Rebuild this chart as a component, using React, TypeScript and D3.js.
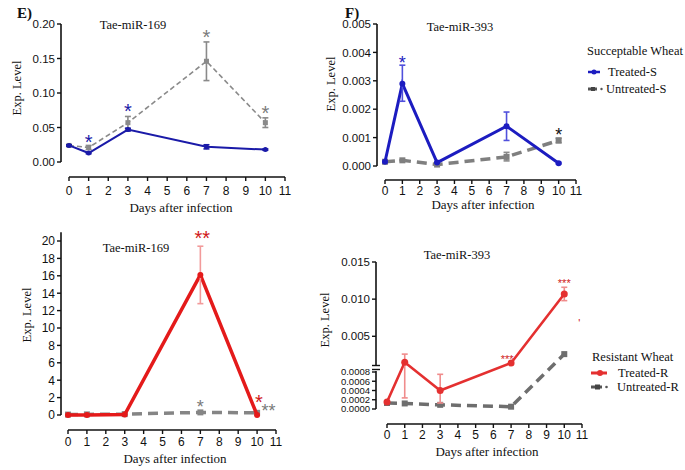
import React from "react";
import * as d3 from "d3";

const days = [0, 1, 3, 7, 10];
const xTicks = d3.range(0, 12);

// E) top: Tae-miR-169, susceptible
const e1Treated = [0.024, 0.013, 0.047, 0.022, 0.018];
const e1TreatedLo = [0.023, 0.012, 0.045, 0.019, 0.017];
const e1TreatedHi = [0.025, 0.014, 0.049, 0.025, 0.019];
const e1Untreated = [0.024, 0.021, 0.057, 0.146, 0.057];
const e1UntreatedLo = [0.023, 0.018, 0.048, 0.118, 0.05];
const e1UntreatedHi = [0.025, 0.024, 0.066, 0.174, 0.064];
const e1Ticks = [0, 0.05, 0.1, 0.15, 0.2];

// F) top: Tae-miR-393, susceptible
const f1Treated = [0.00015, 0.0029, 0.00012, 0.0014, 0.0001];
const f1TreatedLo = [0.00013, 0.00228, 0.0001, 0.0009, 0.00007];
const f1TreatedHi = [0.00017, 0.00355, 0.00014, 0.0019, 0.00013];
const f1Untreated = [0.00015, 0.0002, 0.00005, 0.00032, 0.0009];
const f1UntreatedLo = [0.00013, 0.00018, 0.00003, 0.00018, 0.00082];
const f1UntreatedHi = [0.00017, 0.00022, 0.00007, 0.00048, 0.00098];
const f1Ticks = [0, 0.001, 0.002, 0.003, 0.004, 0.005];

// E) bottom: Tae-miR-169, resistant
const e2Treated = [0, 0, 0.05, 16.1, 0];
const e2TreatedLo = [0, 0, 0.05, 12.8, 0];
const e2TreatedHi = [0, 0, 0.05, 19.4, 0];
const e2Untreated = [0.05, 0.07, 0.1, 0.3, 0.25];
const e2Ticks = d3.range(0, 21, 2);

// F) bottom: Tae-miR-393, resistant (broken axis)
const f2Treated = [0.00015, 0.0015, 0.0004, 0.0014, 0.0107];
const f2TreatedLo = [0.00015, 0.00024, 0.00013, 0.0014, 0.0098];
const f2TreatedHi = [0.00015, 0.0026, 0.00075, 0.0014, 0.0116];
const f2Untreated = [0.00013, 0.00012, 0.00009, 0.00005, 0.0026];
const f2UpperTicks = [0.005, 0.01, 0.015];
const f2LowerTicks = [0, 0.0002, 0.0004, 0.0006, 0.0008];

const SERIF = "'Liberation Serif', 'Times New Roman', serif";
const SANS = "'Liberation Sans', Arial, sans-serif";

interface Series {
  values: number[];
  lo?: number[];
  hi?: number[];
  color: string;
  errColor: string;
  width: number;
  dash?: string;
  marker: "circle" | "square";
  size: number;
}

interface Star {
  day: number;
  value: number;
  text: string;
  color: string;
  size: number;
}

type YScale = (v: number) => number;

function Star({ s, x, y }: { s: Star; x: d3.ScaleLinear<number, number>; y: YScale }) {
  return (
    <text
      x={x(s.day)}
      y={y(s.value) + s.size * 0.57}
      textAnchor="middle"
      fontFamily={SANS}
      fontSize={s.size}
      fill={s.color}
    >
      {s.text}
    </text>
  );
}

function SeriesG({ s, x, y }: { s: Series; x: d3.ScaleLinear<number, number>; y: YScale }) {
  const line = d3
    .line<number>()
    .x((_, i) => x(days[i]))
    .y((d) => y(d));
  return (
    <g>
      <path d={line(s.values) || ""} fill="none" stroke={s.color} strokeWidth={s.width} strokeDasharray={s.dash} />
      {s.lo &&
        s.hi &&
        s.values.map((v, i) => {
          const lo = s.lo![i];
          const hi = s.hi![i];
          if (hi - lo <= 0) return null;
          const cx = x(days[i]);
          return (
            <g key={"e" + i} stroke={s.errColor} strokeWidth={1.6}>
              <line x1={cx} x2={cx} y1={y(lo)} y2={y(hi)} />
              <line x1={cx - 3} x2={cx + 3} y1={y(lo)} y2={y(lo)} />
              <line x1={cx - 3} x2={cx + 3} y1={y(hi)} y2={y(hi)} />
            </g>
          );
        })}
      {s.values.map((v, i) =>
        s.marker === "circle" ? (
          <circle key={i} cx={x(days[i])} cy={y(v)} r={s.size / 2} fill={s.color} />
        ) : (
          <rect key={i} x={x(days[i]) - s.size / 2} y={y(v) - s.size / 2} width={s.size} height={s.size} fill={s.color} />
        )
      )}
    </g>
  );
}

function XAxis({ x, y0, labelY, title, titleX, titleY }: { x: d3.ScaleLinear<number, number>; y0: number; labelY: number; title: string; titleX: number; titleY: number }) {
  return (
    <g>
      <line x1={x(0)} x2={x(11)} y1={y0} y2={y0} stroke="#111" strokeWidth={1.6} />
      {xTicks.map((t) => (
        <g key={t}>
          <line x1={x(t)} x2={x(t)} y1={y0} y2={y0 + 4} stroke="#111" strokeWidth={1.4} />
          <text x={x(t)} y={labelY} textAnchor="middle" fontFamily={SANS} fontSize={12} fill="#111">
            {t}
          </text>
        </g>
      ))}
      <text x={titleX} y={titleY} textAnchor="middle" fontFamily={SERIF} fontSize={13} fill="#111">
        {title}
      </text>
    </g>
  );
}

function YAxis({ x0, y, ticks, fmt, top, bottom, size = 11.5 }: { x0: number; y: YScale; ticks: number[]; fmt: (v: number) => string; top: number; bottom: number; size?: number }) {
  return (
    <g>
      <line x1={x0} x2={x0} y1={top} y2={bottom} stroke="#111" strokeWidth={1.6} />
      {ticks.map((t) => (
        <g key={t}>
          <line x1={x0 - 4} x2={x0} y1={y(t)} y2={y(t)} stroke="#111" strokeWidth={1.4} />
          <text x={x0 - 6} y={y(t) + size * 0.36} textAnchor="end" fontFamily={SANS} fontSize={size} fill="#111">
            {fmt(t)}
          </text>
        </g>
      ))}
    </g>
  );
}

function YLabel({ x, y }: { x: number; y: number }) {
  return (
    <text transform={`translate(${x},${y}) rotate(-90)`} textAnchor="middle" fontFamily={SERIF} fontSize={12.5} fill="#111">
      Exp. Level
    </text>
  );
}

const App: React.FC = () => {
  // ---------- E top ----------
  const xE1 = d3.scaleLinear().domain([0, 11]).range([69, 285]);
  const yE1 = d3.scaleLinear().domain([0, 0.2]).range([162, 24]);
  const e1Blue: Series = { values: e1Treated, lo: e1TreatedLo, hi: e1TreatedHi, color: "#1a1aa8", errColor: "#1a1aa8", width: 2, marker: "circle", size: 5 };
  const e1Gray: Series = { values: e1Untreated, lo: e1UntreatedLo, hi: e1UntreatedHi, color: "#8a8a8a", errColor: "#8a8a8a", width: 1.6, dash: "5,3", marker: "square", size: 5 };
  const e1Stars: Star[] = [
    { day: 1, value: 0.036, text: "*", color: "#1a1aa8", size: 20 },
    { day: 3, value: 0.081, text: "*", color: "#1a1aa8", size: 20 },
    { day: 7, value: 0.187, text: "*", color: "#7a7a7a", size: 20 },
    { day: 10, value: 0.077, text: "*", color: "#7a7a7a", size: 20 },
  ];

  // ---------- F top ----------
  const xF1 = d3.scaleLinear().domain([0, 11]).range([385, 576]);
  const yF1 = d3.scaleLinear().domain([0, 0.005]).range([166, 24]);
  const f1Blue: Series = { values: f1Treated, lo: f1TreatedLo, hi: f1TreatedHi, color: "#1c1cc0", errColor: "#5050dc", width: 3, marker: "circle", size: 6 };
  const f1Gray: Series = { values: f1Untreated, lo: f1UntreatedLo, hi: f1UntreatedHi, color: "#7f7f7f", errColor: "#8a8a8a", width: 3.5, dash: "10,6", marker: "square", size: 6 };
  const f1Stars: Star[] = [
    { day: 1, value: 0.00377, text: "*", color: "#1c1cc0", size: 18 },
    { day: 10, value: 0.00123, text: "*", color: "#111", size: 18 },
  ];

  // ---------- E bottom ----------
  const xE2 = d3.scaleLinear().domain([0, 11]).range([68, 276]);
  const yE2 = d3.scaleLinear().domain([0, 20]).range([415, 241]);
  const e2Red: Series = { values: e2Treated, lo: e2TreatedLo, hi: e2TreatedHi, color: "#e41a1a", errColor: "#f29a9a", width: 3.5, marker: "circle", size: 6 };
  const e2Gray: Series = { values: e2Untreated, color: "#858585", errColor: "#858585", width: 3.5, dash: "10,6", marker: "square", size: 6 };
  const e2Stars: Star[] = [
    { day: 7.1, value: 20.9, text: "**", color: "#d01818", size: 20 },
    { day: 7, value: 1.4, text: "*", color: "#7a7a7a", size: 18 },
    { day: 10.1, value: 2.0, text: "*", color: "#d01818", size: 20 },
    { day: 10.6, value: 0.9, text: "**", color: "#7a7a7a", size: 18 },
  ];

  // ---------- F bottom (broken y axis) ----------
  const xF2 = d3.scaleLinear().domain([0, 11]).range([387, 582]);
  const yF2 = d3.scaleLinear().domain([0, 0.0008, 0.001, 0.015]).range([409, 372, 366, 262]);
  const f2Red: Series = { values: f2Treated, lo: f2TreatedLo, hi: f2TreatedHi, color: "#e43030", errColor: "#f08c8c", width: 2.6, marker: "circle", size: 7 };
  const f2Gray: Series = { values: f2Untreated, color: "#6e6e6e", errColor: "#6e6e6e", width: 3.5, dash: "10,6", marker: "square", size: 6 };
  const f2Stars: Star[] = [
    { day: 6.78, value: 0.0023, text: "***", color: "#d01818", size: 11 },
    { day: 10, value: 0.01244, text: "***", color: "#d01818", size: 11 },
    { day: 10.85, value: 0.00706, text: "'", color: "#d01818", size: 11 },
  ];

  return (
    <svg width={685} height={470} style={{ position: "absolute", left: 0, top: 0, background: "#fff" }}>
      <defs>
        <clipPath id="rightClip">
          <rect x={339} y={0} width={346} height={470} />
        </clipPath>
      </defs>
      <rect width={685} height={470} fill="#fff" />

      {/* E) top */}
      <text x={17} y={18} fontFamily={SERIF} fontWeight="bold" fontSize={15} fill="#111">E)</text>
      <YAxis x0={61} y={yE1} ticks={e1Ticks} fmt={d3.format(".2f")} top={yE1(0.2)} bottom={yE1(0)} />
      <XAxis x={xE1} y0={177} labelY={195} title="Days after infection" titleX={181} titleY={212} />
      <YLabel x={21} y={88} />
      <text x={133} y={29} textAnchor="middle" fontFamily={SERIF} fontSize={12.5} fill="#111">Tae-miR-169</text>
      <SeriesG s={e1Gray} x={xE1} y={yE1} />
      <SeriesG s={e1Blue} x={xE1} y={yE1} />
      {e1Stars.map((s, i) => <Star key={i} s={s} x={xE1} y={yE1} />)}

      {/* F) top */}
      <text x={345} y={18} fontFamily={SERIF} fontWeight="bold" fontSize={15} fill="#111">F)</text>
      <YAxis x0={377} y={yF1} ticks={f1Ticks} fmt={d3.format(".3f")} top={yF1(0.005)} bottom={yF1(0)} />
      <XAxis x={xF1} y0={180} labelY={195} title="Days after infection" titleX={483} titleY={209} />
      <YLabel x={335} y={84} />
      <text x={460} y={31} textAnchor="middle" fontFamily={SERIF} fontSize={12.5} fill="#111">Tae-miR-393</text>
      <SeriesG s={f1Gray} x={xF1} y={yF1} />
      <SeriesG s={f1Blue} x={xF1} y={yF1} />
      {f1Stars.map((s, i) => <Star key={i} s={s} x={xF1} y={yF1} />)}
      {/* legend S */}
      <text x={587} y={55} fontFamily={SERIF} fontSize={12.5} fill="#111">Succeptable Wheat</text>
      <line x1={588} x2={600} y1={72} y2={72} stroke="#1c1cc0" strokeWidth={2.5} />
      <circle cx={594} cy={72} r={2.5} fill="#1c1cc0" />
      <text x={608} y={76} fontFamily={SERIF} fontSize={12.5} fill="#111">Treated-S</text>
      <line x1={588} x2={597} y1={89} y2={89} stroke="#555" strokeWidth={3} />
      <rect x={591} y={87} width={4} height={4} fill="#444" />
      <circle cx={601.5} cy={89} r={1.2} fill="#555" />
      <text x={606} y={93} fontFamily={SERIF} fontSize={12.5} fill="#111">Untreated-S</text>

      {/* E) bottom */}
      <YAxis x0={61} y={yE2} ticks={e2Ticks} fmt={d3.format("d")} top={yE2(21)} bottom={yE2(0)} size={12} />
      <XAxis x={xE2} y0={430} labelY={446} title="Days after infection" titleX={175} titleY={463} />
      <YLabel x={31} y={315} />
      <text x={136} y={252} textAnchor="middle" fontFamily={SERIF} fontSize={12.5} fill="#111">Tae-miR-169</text>
      <SeriesG s={e2Gray} x={xE2} y={yE2} />
      <SeriesG s={e2Red} x={xE2} y={yE2} />
      {e2Stars.map((s, i) => <Star key={i} s={s} x={xE2} y={yE2} />)}

      {/* F) bottom */}
      <g clipPath="url(#rightClip)">
        <YAxis x0={376} y={yF2} ticks={f2UpperTicks} fmt={d3.format(".3f")} top={yF2(0.015)} bottom={365} />
        <YAxis x0={376} y={yF2} ticks={f2LowerTicks} fmt={d3.format(".4f")} top={371} bottom={yF2(0)} size={9.5} />
        <line x1={372} x2={380} y1={365.5} y2={365.5} stroke="#111" strokeWidth={1.4} />
        <line x1={372} x2={380} y1={369.5} y2={369.5} stroke="#111" strokeWidth={1.4} />
      </g>
      <XAxis x={xF2} y0={424} labelY={439} title="Days after infection" titleX={487} titleY={456} />
      <YLabel x={329} y={320} />
      <text x={457} y={259} textAnchor="middle" fontFamily={SERIF} fontSize={12.5} fill="#111">Tae-miR-393</text>
      <SeriesG s={f2Gray} x={xF2} y={yF2} />
      <SeriesG s={f2Red} x={xF2} y={yF2} />
      {f2Stars.map((s, i) => <Star key={i} s={s} x={xF2} y={yF2} />)}
      {/* legend R */}
      <text x={592} y={361} fontFamily={SERIF} fontSize={12.5} fill="#111">Resistant Wheat</text>
      <line x1={591} x2={607} y1={373} y2={373} stroke="#e43030" strokeWidth={3} />
      <circle cx={600} cy={373} r={3} fill="#e43030" />
      <text x={618} y={377} fontFamily={SERIF} fontSize={12.5} fill="#111">Treated-R</text>
      <line x1={591} x2={602} y1={387} y2={387} stroke="#555" strokeWidth={3} />
      <rect x={595} y={384.5} width={5} height={5} fill="#444" />
      <circle cx={606.5} cy={387} r={1.3} fill="#555" />
      <text x={617} y={391} fontFamily={SERIF} fontSize={12.5} fill="#111">Untreated-R</text>
    </svg>
  );
};

export default App;
